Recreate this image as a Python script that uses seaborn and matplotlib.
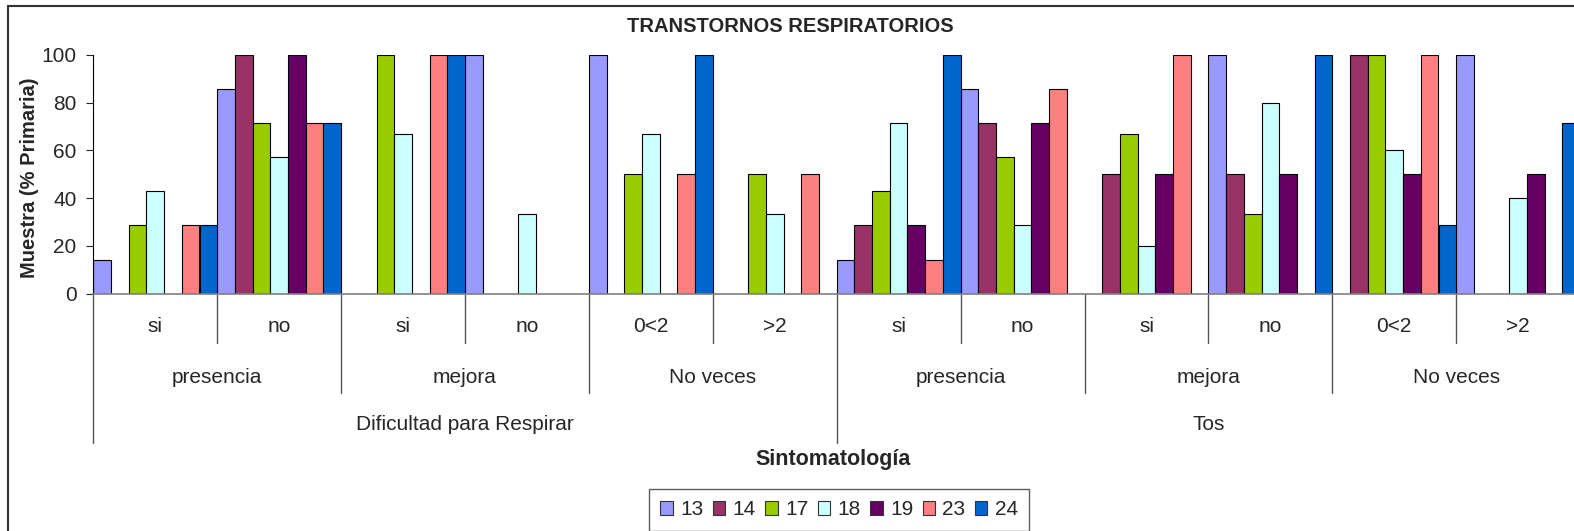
import pandas as pd
import seaborn as sns
import matplotlib.pyplot as plt
from matplotlib.patches import Rectangle
from matplotlib.transforms import blended_transform_factory

# ages (legend series) and their colours
edades = ['13', '14', '17', '18', '19', '23', '24']
colores = ['#9999FF', '#993366', '#99CC00', '#CCFFFF', '#660066', '#FF8080', '#0066CC']

# three level category axis
sintoma = ['Dificultad para Respirar', 'Tos']
aspecto = ['presencia', 'mejora', 'No veces']
respuesta = ['si', 'no', 'si', 'no', '0<2', '>2', 'si', 'no', 'si', 'no', '0<2', '>2']

# % of sample per category, one list per age
v13 = [14.3, 85.7, 0, 100, 100, 0, 14.3, 85.7, 0, 100, 0, 100]
v14 = [0, 100, 0, 0, 0, 0, 28.6, 71.4, 50, 50, 100, 0]
v17 = [28.6, 71.4, 100, 0, 50, 50, 42.9, 57.1, 66.7, 33.3, 100, 0]
v18 = [42.9, 57.1, 66.7, 33.3, 66.7, 33.3, 71.4, 28.6, 20, 80, 60, 40]
v19 = [0, 100, 0, 0, 0, 0, 28.6, 71.4, 50, 50, 50, 50]
v23 = [28.6, 71.4, 100, 0, 50, 50, 14.3, 85.7, 100, 0, 100, 0]
v24 = [28.6, 71.4, 100, 0, 100, 0, 100, 0, 0, 100, 28.6, 71.4]

valores = [v13, v14, v17, v18, v19, v23, v24]
cats = [f'c{i}' for i in range(len(respuesta))]

rows = []
for edad, vals in zip(edades, valores):
    for c, v in zip(cats, vals):
        rows.append((c, edad, v))
df = pd.DataFrame(rows, columns=['categoria', 'edad', 'valor'])

sns.set_style('white')
plt.rcParams['font.family'] = ['Liberation Sans', 'DejaVu Sans']

fig = plt.figure(figsize=(15.74, 5.31), dpi=100)
ax = fig.add_axes([93.3 / 1574, 237.3 / 531, 1486.8 / 1574, 238.7 / 531])

sns.barplot(data=df, x='categoria', y='valor', hue='edad', order=cats, hue_order=edades,
            palette=dict(zip(edades, colores)), saturation=1, width=1.0, edgecolor='black',
            linewidth=0.8, ax=ax, legend=True)

ax.set_xlim(-0.5, len(cats) - 0.5)
ax.set_ylim(0, 100)
ax.set_yticks(range(0, 101, 20))
ax.tick_params(axis='y', direction='out', length=5, width=0.8, pad=7, labelsize=15, left=True)
ax.set_xticks([])
ax.set_xlabel('')
ax.set_ylabel('')
for s in ['top', 'right']:
    ax.spines[s].set_visible(False)
ax.spines['left'].set_color('black')
ax.spines['left'].set_linewidth(0.8)
ax.spines['bottom'].set_color('#808080')
ax.spines['bottom'].set_linewidth(1.2)

# hierarchical category labels
tr = blended_transform_factory(ax.transData, ax.transAxes)
linec = '#555555'
fs = 15
for i, r in enumerate(respuesta):
    ax.text(i, -0.1395, r, transform=tr, ha='center', va='center', fontsize=fs)
for j in range(6):
    ax.text(2 * j + 0.5, -0.349, aspecto[j % 3], transform=tr, ha='center', va='center', fontsize=fs)
for k, s in enumerate(sintoma):
    ax.text(6 * k + 2.5, -0.546, s, transform=tr, ha='center', va='center', fontsize=fs)

for b in range(13):
    x = b - 0.5
    if b % 6 == 0:
        y1 = -0.625
    elif b % 2 == 0:
        y1 = -0.416
    else:
        y1 = -0.207
    ax.plot([x, x], [0, y1], transform=tr, color=linec, lw=1.0, clip_on=False)

fig.text(790 / 1574, 1 - 27 / 531, 'TRANSTORNOS RESPIRATORIOS', ha='center', va='center',
         fontsize=14.5, fontweight='bold')
fig.text(833 / 1574, 1 - 460 / 531, 'Sintomatología', ha='center', va='center',
         fontsize=15.5, fontweight='bold')
fig.text(30 / 1574, 1 - 178 / 531, 'Muestra (% Primaria)', ha='center', va='center',
         rotation=90, fontsize=14.5, fontweight='bold')

handles, labels = ax.get_legend_handles_labels()
ax.legend_.remove()
leg = fig.legend(handles, labels, ncol=7, loc='upper left',
                 bbox_to_anchor=(649 / 1574, 1 - 489 / 531), frameon=True, fancybox=False,
                 fontsize=15, handlelength=0.6, handleheight=0.6, handletextpad=0.35,
                 columnspacing=0.45, borderpad=0.55, borderaxespad=0)
leg.get_frame().set_edgecolor('#333333')
leg.get_frame().set_linewidth(1.0)
for h in leg.legend_handles:
    h.set_edgecolor('#333333')
    h.set_linewidth(0.8)

# outer chart border
fig.patches.append(Rectangle((8 / 1574, -0.05), 1.1, 1.05 - 6 / 531, transform=fig.transFigure,
                             fill=False, edgecolor='#333333', lw=1.5))

fig.savefig('out.png', dpi=100)
